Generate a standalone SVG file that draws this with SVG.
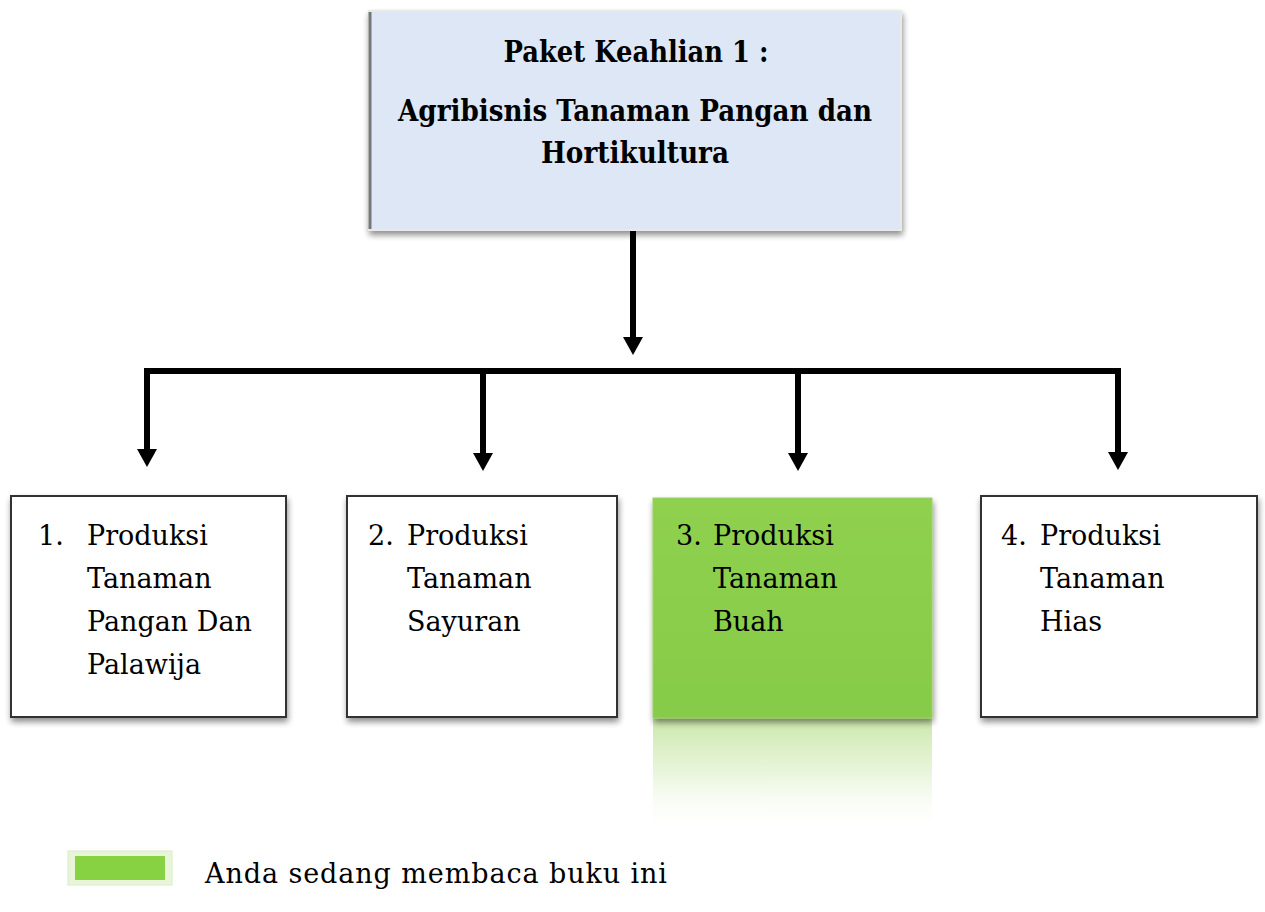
<svg xmlns="http://www.w3.org/2000/svg" width="1265" height="912" viewBox="0 0 1265 912">
<defs>
<style>
.t{font-family:"DejaVu Serif","Liberation Serif",serif;font-size:27px;fill:#000}
.b{font-family:"DejaVu Serif","Liberation Serif",serif;font-size:30px;font-weight:bold;fill:#000;text-anchor:middle}
.box{fill:#fff;stroke:#333;stroke-width:2}
.con{stroke:#000;stroke-width:6;fill:none}
</style>
<marker id="ah" viewBox="0 0 18 20" refX="0" refY="10" markerUnits="userSpaceOnUse" markerWidth="18" markerHeight="20" orient="auto">
<path d="M0,0 L18,10 L0,20 Z" fill="#000"/>
</marker>
<filter id="sh" x="-5%" y="-5%" width="115%" height="120%">
<feGaussianBlur in="SourceAlpha" stdDeviation="3"/>
<feOffset dx="1" dy="4"/>
<feComponentTransfer><feFuncA type="linear" slope="0.45"/></feComponentTransfer>
<feMerge><feMergeNode/><feMergeNode in="SourceGraphic"/></feMerge>
</filter>
<linearGradient id="green" x1="0" y1="0" x2="0" y2="1">
<stop offset="0" stop-color="#8fd14f"/>
<stop offset="1" stop-color="#86cb48"/>
</linearGradient>
<linearGradient id="refl" x1="0" y1="0" x2="0" y2="1">
<stop offset="0" stop-color="#c4e4a0" stop-opacity="0.9"/>
<stop offset="0.5" stop-color="#e2f2d0" stop-opacity="0.7"/>
<stop offset="1" stop-color="#ffffff" stop-opacity="0"/>
</linearGradient>
</defs>
<rect width="1265" height="912" fill="#fff"/>

<g id="connectors">
<line class="con" x1="633" y1="228" x2="633" y2="337" marker-end="url(#ah)"/>
<polyline class="con" points="147,450 147,371 1118,371 1118,452"/>
<line class="con" x1="483" y1="371" x2="483" y2="453" marker-end="url(#ah)"/>
<line class="con" x1="798" y1="371" x2="798" y2="453" marker-end="url(#ah)"/>
<line class="con" x1="147" y1="400" x2="147" y2="449" marker-end="url(#ah)"/>
<line class="con" x1="1118" y1="400" x2="1118" y2="452" marker-end="url(#ah)"/>
</g>

<g id="top">
<rect x="369" y="11" width="532" height="219" fill="#dde7f5" stroke="#e6ebe6" stroke-width="2" filter="url(#sh)"/>
<line x1="370" y1="12" x2="370" y2="229" stroke="#777" stroke-width="3"/>
<text class="b" x="636" y="62" textLength="265" lengthAdjust="spacingAndGlyphs">Paket Keahlian 1 :</text>
<text class="b" x="635" y="121" textLength="474" lengthAdjust="spacingAndGlyphs">Agribisnis Tanaman Pangan dan</text>
<text class="b" x="635" y="163" textLength="188" lengthAdjust="spacingAndGlyphs">Hortikultura</text>
</g>

<g id="n1">
<rect class="box" x="11" y="496" width="275" height="221" filter="url(#sh)"/>
<text class="t" x="38" y="545">1.</text>
<text class="t" x="87" y="545">Produksi</text>
<text class="t" x="87" y="588">Tanaman</text>
<text class="t" x="87" y="631">Pangan Dan</text>
<text class="t" x="87" y="674">Palawija</text>
</g>

<g id="n2">
<rect class="box" x="347" y="496" width="270" height="221" stroke="#000" stroke-width="3" filter="url(#sh)"/>
<text class="t" x="368" y="545">2.</text>
<text class="t" x="407" y="545">Produksi</text>
<text class="t" x="407" y="588">Tanaman</text>
<text class="t" x="407" y="631">Sayuran</text>
</g>

<g id="n3">
<rect x="653" y="718" width="279" height="115" fill="url(#refl)"/>
<rect x="653" y="498" width="279" height="220" fill="url(#green)" stroke="#9ccf6a" stroke-width="1" filter="url(#sh)"/>
<text class="t" x="676" y="545">3.</text>
<text class="t" x="713" y="545">Produksi</text>
<text class="t" x="713" y="588">Tanaman</text>
<text class="t" x="713" y="631">Buah</text>
</g>

<g id="n4">
<rect class="box" x="981" y="496" width="276" height="221" filter="url(#sh)"/>
<text class="t" x="1001" y="545">4.</text>
<text class="t" x="1040" y="545">Produksi</text>
<text class="t" x="1040" y="588">Tanaman</text>
<text class="t" x="1040" y="631">Hias</text>
</g>

<g id="legend">
<rect x="68" y="851" width="104" height="34" fill="#e8f5d8" stroke="#d8ecc4" stroke-width="1"/>
<rect x="75" y="856" width="90" height="24" fill="#86d242"/>
<text class="t" x="205" y="883" textLength="462">Anda sedang membaca buku ini</text>
</g>
</svg>
